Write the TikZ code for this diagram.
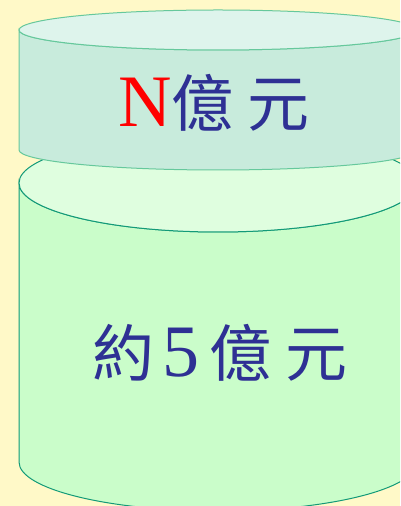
\documentclass[tikz,border=0pt]{standalone}
\usepackage{fontspec}
\setmainfont{Liberation Serif}
\newfontfamily\cjk{Noto Sans CJK TC}
\definecolor{paper}{HTML}{FFF9C8}
\definecolor{lidside}{HTML}{C8EBDC}
\definecolor{lidtop}{HTML}{DEF4EC}
\definecolor{lidline}{HTML}{66C89C}
\definecolor{jarside}{HTML}{CAFDCA}
\definecolor{jartop}{HTML}{DFFEDF}
\definecolor{jarline}{HTML}{139A78}
\definecolor{ink}{HTML}{2E3094}
\tikzset{
  lid/.style={draw=lidline, line width=1pt},
  jar/.style={draw=jarline, line width=1pt},
  amount/.style={text=ink, font=\fontsize{62}{62}\selectfont}
}

\begin{document}
\begin{tikzpicture}[x=1pt, y=1pt]
\useasboundingbox (0,0) rectangle (400,506);
\clip (0,0) rectangle (400,506);
\fill[paper] (0,0) rectangle (400,506);
% big cylinder
    \coordinate (J1) at (19,323);
    \coordinate (J2) at (19,44);
    \filldraw[jar, fill=jarside] (J1) -- (J2) arc (180:360:199pt and 49pt) -- ++(0,279) arc (360:180:199pt and 49pt) -- cycle;
    \filldraw[jar, fill=jartop] (218,323) ellipse (199pt and 49pt);
% small cylinder
    \coordinate (L1) at (19,476);
    \coordinate (L2) at (19,356);
    \filldraw[lid, fill=lidside] (L1) -- (L2) arc (180:360:199pt and 20pt) -- ++(0,120) arc (360:180:199pt and 20pt) -- cycle;
    \filldraw[lid, fill=lidtop] (218,476) ellipse (199pt and 20pt);
    \node[amount] (top) at (214,403) {{\color{red}\fontsize{74}{74}\selectfont N}\cjk 億\kern14pt 元};
    \node[amount] (bottom) at (220,153) {{\cjk 約}\kern8pt{\fontsize{74}{74}\selectfont 5}\kern10pt{\cjk 億}\kern14pt{\cjk 元}};
\end{tikzpicture}
\end{document}
